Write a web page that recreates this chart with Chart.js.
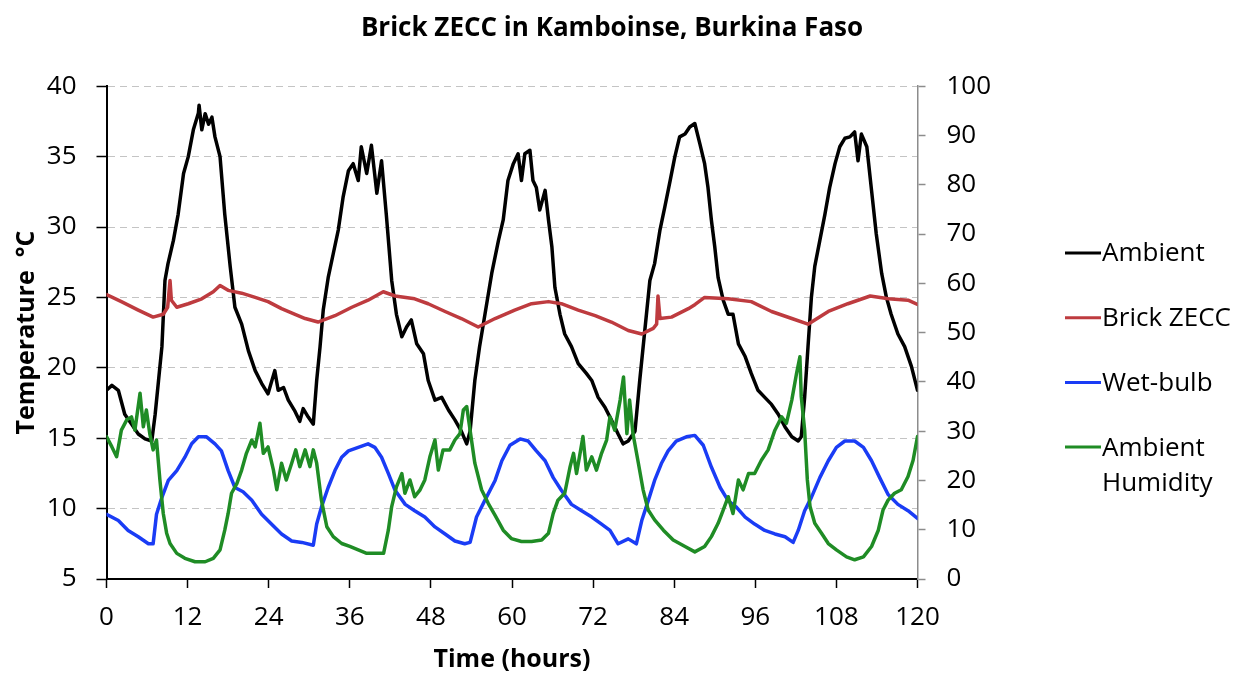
<!DOCTYPE html>
<html>
<head>
<meta charset="utf-8">
<title>Brick ZECC in Kamboinse, Burkina Faso</title>
<script src="https://cdn.jsdelivr.net/npm/chart.js@4.4.1/dist/chart.umd.min.js"></script>
<style>
  body { margin: 0; background: #fff; }
  canvas { display: block; }
</style>
</head>
<body>
<canvas id="zeccChart" width="1246" height="677"></canvas>
<script>
'use strict';

// Datos (horas, °C y % de humedad)
const ambientHours = [0, 0.8, 1.75, 2.7, 3.7, 4.7, 5.7, 6.7, 7.2, 7.7, 8.2, 8.65, 9.1, 9.9, 10.6, 11.4, 12.1, 12.85, 13.6, 13.7, 14.1, 14.6, 15.1, 15.6, 16.05, 16.8, 17.5, 18.3, 19, 20, 21, 22, 22.95, 23.9, 24.9, 25.4, 26.2, 26.9, 27.9, 28.6, 29.1, 29.85, 30.6, 31.1, 31.6, 32.07, 32.8, 33.55, 34.3, 35, 35.8, 36.5, 37.25, 37.7, 38.5, 39.2, 40, 40.7, 41.4, 42.2, 42.9, 43.7, 44.4, 45.1, 45.9, 46.9, 47.6, 48.6, 49.6, 50.6, 51.55, 52.5, 53.3, 53.8, 54.5, 55.2, 56, 57, 58, 58.7, 59.4, 60.2, 60.9, 61.4, 61.9, 62.65, 63.1, 63.6, 64.1, 64.9, 65.4, 65.9, 66.35, 67.1, 67.8, 68.8, 69.8, 71, 71.8, 72.75, 73.75, 74.7, 75.7, 76.45, 77.2, 78.2, 78.9, 79.65, 80.4, 81.1, 81.9, 82.6, 83.4, 84.1, 84.8, 85.6, 86.3, 87.05, 87.8, 88.5, 89, 89.5, 90, 90.5, 91.25, 92, 92.7, 93.5, 94.5, 95.4, 96.4, 97.4, 98.4, 99.4, 100.4, 101.4, 102.35, 102.8, 103.3, 103.8, 104.3, 104.8, 105.55, 106.3, 107, 107.8, 108.5, 109.25, 110, 110.7, 111.2, 111.7, 112.5, 113.2, 113.9, 114.7, 115.4, 116.1, 117.1, 118.1, 119.1, 120];
const ambientTemp = [18.4, 18.75, 18.4, 16.7, 16, 15.3, 14.95, 14.8, 16.7, 19.1, 21.5, 26.2, 27.4, 29.05, 30.9, 33.8, 35, 36.9, 38.1, 38.65, 36.9, 38.05, 37.3, 37.8, 36.4, 35, 30.9, 27.2, 24.3, 23.1, 21.2, 19.8, 18.9, 18.15, 19.8, 18.4, 18.6, 17.7, 16.9, 16.2, 17.1, 16.5, 16, 19.1, 21.5, 24.1, 26.4, 28.1, 29.8, 32.1, 34, 34.5, 33.3, 35.7, 33.8, 35.8, 32.4, 34.7, 30.9, 26.2, 23.8, 22.2, 22.9, 23.4, 21.7, 21, 19.1, 17.7, 17.9, 17, 16.3, 15.5, 14.6, 15.5, 19.1, 21.5, 23.8, 26.7, 29.05, 30.5, 33.3, 34.5, 35.2, 33.3, 35.2, 35.45, 33.3, 32.8, 31.2, 32.6, 30.5, 28.6, 25.7, 23.8, 22.4, 21.5, 20.3, 19.6, 19.1, 17.9, 17.2, 16.3, 15.3, 14.6, 14.8, 15.5, 19.1, 22.65, 26.2, 27.4, 29.8, 31.4, 33.3, 35, 36.4, 36.6, 37.1, 37.35, 35.9, 34.5, 32.8, 30.5, 28.6, 26.4, 24.8, 23.8, 23.8, 21.7, 20.8, 19.6, 18.4, 17.9, 17.4, 16.7, 15.8, 15.1, 14.8, 15.1, 17.9, 21.5, 25, 27.2, 29.05, 30.9, 32.8, 34.5, 35.7, 36.3, 36.4, 36.75, 34.7, 36.6, 35.7, 32.6, 29.5, 26.7, 25, 23.8, 22.4, 21.5, 20.1, 18.4];

const zeccHours = [0, 2.2, 4.7, 6.9, 8.4, 9.05, 9.4, 9.6, 10.4, 12.1, 14.1, 15.8, 16.8, 18, 20, 22, 23.9, 25.9, 27.9, 29.4, 31.3, 33.8, 36.3, 38.7, 40.95, 42.7, 45.6, 47.6, 50.1, 52.5, 55, 57.5, 60.4, 62.9, 65.4, 67.3, 69.8, 72.3, 74.7, 77.2, 79.2, 80.9, 81.4, 81.6, 81.9, 83.6, 86.1, 87.1, 88.5, 92, 95.4, 98.4, 101.4, 103.8, 106.8, 109.7, 113, 115.7, 118.6, 120];
const zeccTemp = [25.2, 24.7, 24.1, 23.6, 23.8, 24.3, 26.2, 24.8, 24.3, 24.55, 24.9, 25.4, 25.85, 25.5, 25.3, 25, 24.7, 24.2, 23.8, 23.5, 23.25, 23.7, 24.3, 24.8, 25.4, 25.1, 24.9, 24.55, 24, 23.5, 22.9, 23.5, 24.1, 24.55, 24.7, 24.55, 24.1, 23.7, 23.25, 22.65, 22.4, 22.8, 23.1, 25.1, 23.5, 23.6, 24.2, 24.5, 25, 24.9, 24.7, 24, 23.5, 23.1, 24, 24.55, 25.1, 24.9, 24.8, 24.5];

const wetHours = [0, 1.75, 3.2, 4.7, 6.2, 6.9, 7.4, 8.2, 9.15, 10.4, 11.6, 12.6, 13.6, 14.8, 16.05, 17, 18, 19, 20.2, 21.5, 22.95, 24.4, 25.9, 27.4, 28.9, 30.6, 31.1, 31.8, 32.8, 33.8, 34.8, 35.8, 37.25, 38.7, 39.7, 40.7, 41.7, 42.7, 44.2, 45.6, 47.1, 48.6, 50.1, 51.55, 53, 53.8, 54.75, 56, 57.5, 58.5, 59.7, 61.2, 62.4, 63.6, 64.9, 66.1, 67.3, 68.8, 70.3, 71.8, 73.25, 74.5, 75.7, 77.2, 78.4, 79.2, 80.15, 81.1, 82.1, 83.1, 84.3, 85.8, 87.05, 88.3, 89.5, 90.8, 92, 93.2, 94.5, 95.9, 97.4, 98.9, 100.4, 101.6, 102.35, 103.3, 104.3, 105.55, 106.8, 108, 109.25, 110.7, 112, 113.2, 114.4, 115.65, 117.1, 118.6, 120];
const wetTemp = [9.6, 9.15, 8.45, 8, 7.5, 7.5, 9.6, 10.8, 12, 12.7, 13.65, 14.6, 15.1, 15.1, 14.6, 14.1, 12.7, 11.5, 11.2, 10.6, 9.6, 8.9, 8.2, 7.7, 7.6, 7.4, 8.9, 10.1, 11.5, 12.7, 13.65, 14.1, 14.35, 14.6, 14.35, 13.65, 12.5, 11.3, 10.3, 9.85, 9.4, 8.7, 8.2, 7.7, 7.5, 7.6, 9.4, 10.6, 12, 13.4, 14.5, 14.95, 14.8, 14.1, 13.4, 12.2, 11.3, 10.3, 9.85, 9.4, 8.9, 8.45, 7.5, 7.85, 7.5, 9.15, 10.55, 12, 13.2, 14.1, 14.8, 15.1, 15.2, 14.5, 12.95, 11.5, 10.55, 10.1, 9.4, 8.9, 8.45, 8.2, 8, 7.6, 8.45, 9.85, 10.8, 12.2, 13.4, 14.35, 14.8, 14.8, 14.35, 13.4, 12.2, 11, 10.3, 9.85, 9.3];

const humidHours = [0, 0.8, 1.5, 2.2, 3, 3.7, 4.2, 4.96, 5.45, 5.9, 6.4, 6.9, 7.4, 7.9, 8.4, 8.9, 9.4, 10.4, 11.6, 13.1, 14.6, 15.8, 16.8, 17.5, 18, 18.5, 19.3, 20, 20.7, 21.5, 22, 22.7, 23.2, 23.9, 24.7, 25.2, 25.9, 26.6, 27.4, 28, 28.6, 29.4, 30.1, 30.6, 31.1, 31.8, 32.6, 33.55, 34.8, 36, 37.25, 38.5, 39.7, 41, 41.7, 42.2, 42.9, 43.7, 44.15, 44.9, 45.6, 46.4, 47.1, 47.85, 48.6, 49.1, 49.8, 50.8, 51.55, 52.3, 52.8, 53.3, 53.8, 54.5, 55.5, 56.5, 57.5, 58.7, 59.9, 61.4, 62.9, 64.4, 65.4, 66.1, 66.8, 67.8, 68.6, 69.1, 69.55, 70.5, 71, 71.8, 72.5, 73.25, 74, 74.5, 75.2, 76, 76.5, 77, 77.4, 77.9, 78.7, 79.4, 80.15, 81.1, 82.4, 83.85, 85.6, 87.05, 88.5, 89.5, 90.5, 91.25, 92, 92.7, 93.5, 94.2, 95, 95.9, 96.9, 97.9, 98.9, 99.9, 100.6, 101.4, 102.1, 102.6, 102.8, 103.3, 103.7, 104.1, 104.8, 105.8, 106.8, 108, 109.5, 110.7, 112, 113.2, 114.2, 114.9, 115.65, 116.6, 117.6, 118.6, 119.35, 120];
const humidValues = [28.9, 26.8, 24.8, 30.2, 32.3, 32.9, 30.2, 37.7, 30.9, 34.3, 29.5, 26.2, 28.2, 20.1, 13.3, 9.3, 7.2, 5.2, 4.2, 3.5, 3.5, 4.2, 5.9, 9.9, 13.3, 17.4, 19.4, 22.1, 25.5, 28.2, 26.8, 31.6, 25.5, 26.8, 22.1, 18.1, 23.5, 20.1, 23.5, 26.2, 22.8, 26.2, 22.8, 26.2, 23.5, 16, 10.6, 8.6, 7.2, 6.6, 5.9, 5.2, 5.2, 5.2, 9.9, 14.7, 18.7, 21.4, 17.4, 20.1, 16.7, 18.1, 20.1, 24.8, 28.2, 22.1, 26.2, 26.2, 28.2, 29.5, 34.3, 35, 30.2, 23.5, 18.1, 15.3, 12.9, 9.9, 8.2, 7.6, 7.6, 7.9, 9.3, 13.3, 16, 17.4, 22.8, 25.5, 21.4, 28.9, 22.1, 24.8, 22.1, 25.5, 28.2, 32.9, 30.2, 36.3, 41, 29.5, 36.3, 29.5, 23.5, 18.1, 14, 12, 9.9, 7.9, 6.6, 5.5, 6.6, 8.6, 11.3, 14, 16.7, 13.3, 20.1, 18.1, 21.4, 21.4, 24.1, 26.2, 30.2, 32.9, 31.6, 36.3, 41.7, 45.1, 37, 30.2, 20.1, 14.7, 11.3, 9.3, 7.2, 5.9, 4.5, 3.9, 4.5, 6.6, 9.9, 14, 16, 17.4, 18.1, 20.8, 24.1, 28.9];

const seriesNames = ['Ambient', 'Brick ZECC', 'Wet-bulb', 'Ambient Humidity'];
const seriesColors = ['#000000', '#BE3B3F', '#1A3CF5', '#1F8C25'];

const FONT = "'Open Sans', 'Noto Sans', sans-serif";
Chart.defaults.font.family = FONT;
Chart.defaults.color = '#000';

const toPoints = (hours, values) => hours.map((h, i) => ({ x: h, y: values[i] }));

function serie(idx, hours, values, axis) {
  return {
    label: seriesNames[idx],
    data: toPoints(hours, values),
    yAxisID: axis,
    borderColor: seriesColors[idx],
    backgroundColor: seriesColors[idx],
    borderWidth: 3.5,
    borderJoinStyle: 'round',
    borderCapStyle: 'round',
    pointRadius: 0,
    tension: 0,
    fill: false,
    order: 4 - idx
  };
}

// Leyenda a la derecha, como en Excel
const sideLegend = {
  id: 'sideLegend',
  afterDraw(chart) {
    const ctx = chart.ctx;
    ctx.save();
    ctx.font = `26px ${FONT}`;
    ctx.textBaseline = 'middle';
    ctx.fillStyle = '#000';
    seriesNames.forEach((name, i) => {
      const y = 253 + i * 64.7;
      ctx.strokeStyle = seriesColors[i];
      ctx.lineWidth = 3;
      ctx.beginPath();
      ctx.moveTo(1065, y);
      ctx.lineTo(1101, y);
      ctx.stroke();
      const lines = name === 'Ambient Humidity' ? ['Ambient', 'Humidity'] : [name];
      lines.forEach((t, j) => ctx.fillText(t, 1102, y + 1 + j * 35));
    });
    ctx.restore();
  }
};

new Chart(document.getElementById('zeccChart'), {
  type: 'line',
  data: {
    datasets: [
      serie(0, ambientHours, ambientTemp, 'y'),
      serie(1, zeccHours, zeccTemp, 'y'),
      serie(2, wetHours, wetTemp, 'y'),
      serie(3, humidHours, humidValues, 'y2')
    ]
  },
  options: {
    responsive: false,
    animation: false,
    layout: { padding: { top: 0, right: 22, bottom: 0, left: 0 } },
    plugins: {
      legend: { display: false },
      tooltip: { enabled: false },
      title: {
        display: true,
        text: 'Brick ZECC in Kamboinse, Burkina Faso',
        font: { size: 26, weight: 'bold', family: FONT },
        color: '#000',
        padding: { top: 13, bottom: 42 }
      }
    },
    scales: {
      x: {
        type: 'linear',
        min: 0,
        max: 120,
        ticks: { stepSize: 12, padding: 14, font: { size: 26 }, maxRotation: 0 },
        grid: { drawOnChartArea: false, tickLength: 9, tickColor: '#000', tickWidth: 1.5 },
        border: { color: '#000', width: 2 },
        title: {
          display: true,
          text: 'Time (hours)',
          font: { size: 25, weight: 'bold' },
          padding: { top: 0, bottom: 2 }
        },
        afterFit: (s) => { s.height = 98; }
      },
      y: {
        position: 'left',
        min: 5,
        max: 40,
        ticks: { stepSize: 5, padding: 20, font: { size: 26 } },
        grid: { color: '#C4C4C4', lineWidth: 1, tickLength: 10, tickColor: '#000', tickWidth: 1.5, tickBorderDash: [] },
        border: { color: '#000', width: 2, dash: [7, 5] },
        title: {
          display: true,
          text: 'Temperature  °C',
          font: { size: 25, weight: 'bold' },
          padding: { top: 12, bottom: 0 }
        },
        afterFit: (s) => { s.width = 106.5; }
      },
      y2: {
        position: 'right',
        min: 0,
        max: 100,
        ticks: { stepSize: 10, padding: 21, font: { size: 26 } },
        grid: { drawOnChartArea: false, tickLength: 8, tickColor: '#8C8C8C', tickWidth: 1.5 },
        border: { color: '#8C8C8C', width: 1.5 },
        afterFit: (s) => { s.width = 306.5; }
      }
    }
  },
  plugins: [sideLegend]
});
</script>
</body>
</html>
